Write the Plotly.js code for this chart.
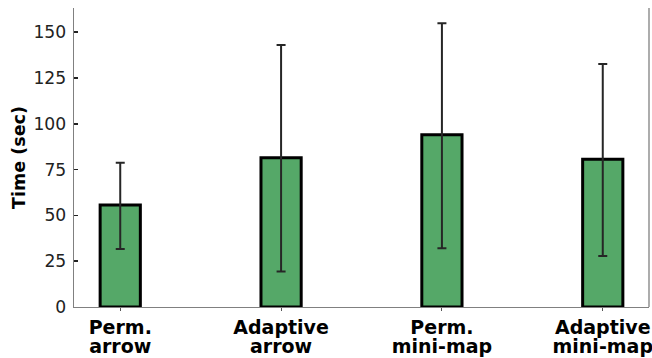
<!DOCTYPE html>
<html>
<head>
<meta charset="utf-8">
<script src="https://cdn.plot.ly/plotly-3.0.1.min.js"></script>
<style>html,body{margin:0;padding:0;background:#fff;}#chart{width:652px;height:358px;}</style>
</head>
<body>
<div id="chart"></div>
<script>
const categoryLine1 = ["Perm.", "Adaptive", "Perm.", "Adaptive"];
const categoryLine2 = ["arrow", "arrow", "mini-map", "mini-map"];
const meanTimes = [55.7, 81.5, 94.0, 80.7];
const errUp = [23.0, 61.5, 60.9, 51.9];
const errDown = [24.1, 62.1, 61.9, 52.8];
const yTickVals = [0, 25, 50, 75, 100, 125, 150];

const positions = categoryLine1.map((c, i) => i);

const trace = {
  type: 'bar',
  x: positions,
  y: meanTimes,
  width: 0.25,
  marker: { color: '#55a868', line: { color: '#000000', width: 3 } },
  error_y: {
    type: 'data', symmetric: false, array: errUp, arrayminus: errDown,
    color: '#262626', thickness: 2, width: 4.5
  },
  hoverinfo: 'none'
};

const labelFont = { family: 'DejaVu Sans', size: 19, weight: 'bold', color: '#000000' };

const layout = {
  width: 652, height: 358,
  margin: { l: 73.5, r: 3, t: 8, b: 50.5 },
  paper_bgcolor: '#ffffff', plot_bgcolor: '#ffffff',
  showlegend: false,
  font: { family: 'DejaVu Sans', color: '#000000' },
  xaxis: {
    range: [-0.2875, 3.2875],
    tickmode: 'array', tickvals: positions, ticktext: categoryLine1,
    showgrid: false, zeroline: false,
    showline: true, linecolor: '#808080', linewidth: 1.3,
    ticks: 'outside', ticklen: 2.5, tickcolor: '#555555', tickwidth: 1,
    ticklabelstandoff: 0,
    ticklabeloverflow: 'allow',
    tickfont: labelFont,
    fixedrange: true
  },
  xaxis2: {
    overlaying: 'x', side: 'bottom', anchor: 'y',
    range: [-0.2875, 3.2875],
    tickmode: 'array', tickvals: positions, ticktext: categoryLine2,
    showgrid: false, zeroline: false, showline: false,
    ticks: '', ticklabelstandoff: 26,
    ticklabeloverflow: 'allow',
    tickfont: labelFont,
    fixedrange: true
  },
  yaxis: {
    range: [0, 163.2],
    tickmode: 'array', tickvals: yTickVals, ticktext: yTickVals.map(String),
    showgrid: false, zeroline: false,
    showline: true, linecolor: '#808080', linewidth: 1.3,
    ticks: 'inside', ticklen: 3.5, tickcolor: '#222222', tickwidth: 1.5,
    ticklabelstandoff: 3,
    tickfont: { family: 'DejaVu Sans', size: 17.2, color: '#222222' },
    title: { text: 'Time (sec)', font: { family: 'DejaVu Sans', size: 17.5, weight: 'bold', color: '#000000' }, standoff: 3 },
    fixedrange: true
  },
  shapes: [
    { type: 'line', xref: 'paper', yref: 'paper', x0: 1, x1: 1, y0: 0, y1: 1,
      line: { color: '#808080', width: 1.3 } }
  ]
};

const ghost = { type: 'scatter', x: [0], y: [0], xaxis: 'x2', yaxis: 'y', mode: 'markers', marker: { opacity: 0 }, hoverinfo: 'none' };

Plotly.newPlot('chart', [trace, ghost], layout, { displayModeBar: false, staticPlot: true });
</script>
</body>
</html>
